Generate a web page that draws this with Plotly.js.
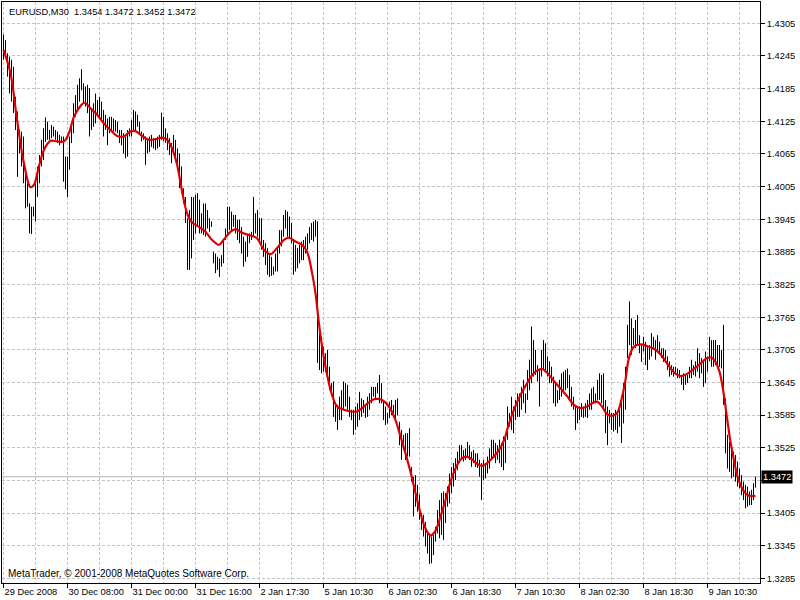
<!DOCTYPE html>
<html>
<head>
<meta charset="utf-8">
<script src="https://cdn.plot.ly/plotly-3.0.1.min.js"></script>
<style>html,body{margin:0;padding:0;background:#fff;}#chart{width:800px;height:600px;}</style>
</head>
<body>
<div id="chart"></div>
<script>
// ---- data ----
const symbol = 'EURUSD,M30';
const lastBar = [1.3454, 1.3472, 1.3452, 1.3472]; // open, high, low, close
const tickIdx = [0, 32, 64, 96, 128, 160, 192, 224, 256, 288, 320, 352];
const tickLabels = ['29 Dec 2008', '30 Dec 08:00', '31 Dec 00:00', '31 Dec 16:00', '2 Jan 17:30', '5 Jan 10:30',
  '6 Jan 02:30', '6 Jan 18:30', '7 Jan 10:30', '8 Jan 02:30', '8 Jan 18:30', '9 Jan 10:30'];
const priceTicks = [1.4305, 1.4245, 1.4185, 1.4125, 1.4065, 1.4005, 1.3945, 1.3885, 1.3825, 1.3765,
  1.3705, 1.3645, 1.3585, 1.3525, 1.3465, 1.3405, 1.3345, 1.3285];

const highs = [
1.4284,1.4274,1.4250,1.4244,1.4238,1.4225,1.4170,1.4143,1.4109,1.4106,
1.4097,1.4036,1.4011,1.3974,1.3968,1.3968,1.4011,1.4042,1.4063,1.4091,
1.4112,1.4132,1.4124,1.4109,1.4118,1.4115,1.4109,1.4106,1.4100,1.4097,
1.4097,1.4060,1.4060,1.4097,1.4121,1.4158,1.4173,1.4192,1.4204,1.4221,
1.4195,1.4189,1.4192,1.4186,1.4146,1.4158,1.4176,1.4164,1.4170,1.4161,
1.4146,1.4137,1.4130,1.4133,1.4133,1.4130,1.4127,1.4124,1.4109,1.4109,
1.4103,1.4097,1.4109,1.4112,1.4127,1.4146,1.4143,1.4137,1.4124,1.4106,
1.4103,1.4097,1.4091,1.4097,1.4100,1.4094,1.4094,1.4097,1.4100,1.4141,
1.4133,1.4112,1.4103,1.4094,1.4085,1.4100,1.4091,1.4075,1.4066,1.4042,
1.4002,1.3986,1.3947,1.3962,1.3986,1.3986,1.3990,1.3993,1.3981,1.3956,
1.3974,1.3974,1.3962,1.3947,1.3941,1.3885,1.3882,1.3876,1.3873,1.3879,
1.3907,1.3928,1.3968,1.3968,1.3959,1.3953,1.3953,1.3944,1.3944,1.3931,
1.3913,1.3904,1.3916,1.3919,1.3922,1.3986,1.3956,1.3962,1.3947,1.3947,
1.3907,1.3901,1.3892,1.3879,1.3876,1.3858,1.3882,1.3892,1.3925,1.3925,
1.3953,1.3962,1.3959,1.3950,1.3938,1.3907,1.3898,1.3892,1.3898,1.3904,
1.3907,1.3913,1.3919,1.3931,1.3938,1.3941,1.3944,1.3941,1.3736,1.3729,
1.3711,1.3699,1.3705,1.3674,1.3644,1.3647,1.3607,1.3604,1.3619,1.3631,
1.3647,1.3644,1.3641,1.3619,1.3595,1.3595,1.3601,1.3607,1.3628,1.3616,
1.3613,1.3601,1.3619,1.3625,1.3637,1.3637,1.3637,1.3644,1.3659,1.3644,
1.3613,1.3601,1.3589,1.3610,1.3613,1.3604,1.3613,1.3616,1.3573,1.3558,
1.3549,1.3552,1.3552,1.3561,1.3490,1.3472,1.3475,1.3457,1.3439,1.3405,
1.3402,1.3389,1.3371,1.3368,1.3362,1.3365,1.3380,1.3411,1.3429,1.3442,
1.3445,1.3442,1.3454,1.3478,1.3490,1.3497,1.3506,1.3518,1.3530,1.3530,
1.3521,1.3524,1.3536,1.3530,1.3518,1.3521,1.3515,1.3515,1.3503,1.3497,
1.3503,1.3497,1.3509,1.3524,1.3540,1.3540,1.3534,1.3530,1.3540,1.3534,
1.3546,1.3546,1.3601,1.3589,1.3619,1.3601,1.3613,1.3625,1.3625,1.3637,
1.3650,1.3625,1.3668,1.3687,1.3748,1.3723,1.3705,1.3677,1.3668,1.3705,
1.3723,1.3717,1.3693,1.3684,1.3674,1.3656,1.3644,1.3631,1.3650,1.3662,
1.3665,1.3668,1.3671,1.3659,1.3637,1.3619,1.3601,1.3601,1.3601,1.3607,
1.3601,1.3607,1.3613,1.3625,1.3634,1.3637,1.3625,1.3650,1.3662,1.3659,
1.3662,1.3613,1.3601,1.3595,1.3589,1.3589,1.3595,1.3589,1.3595,1.3613,
1.3644,1.3674,1.3751,1.3794,1.3763,1.3745,1.3760,1.3769,1.3732,1.3714,
1.3729,1.3720,1.3711,1.3714,1.3736,1.3729,1.3723,1.3732,1.3720,1.3708,
1.3708,1.3705,1.3693,1.3684,1.3677,1.3674,1.3674,1.3671,1.3668,1.3659,
1.3662,1.3659,1.3659,1.3674,1.3687,1.3677,1.3684,1.3708,1.3699,1.3690,
1.3687,1.3702,1.3693,1.3729,1.3723,1.3723,1.3723,1.3714,1.3714,1.3705,
1.3751,1.3616,1.3549,1.3536,1.3530,1.3518,1.3512,1.3500,1.3487,1.3475,
1.3463,1.3457,1.3454,1.3445,1.3448,1.3460,1.3472
];
const lows = [
1.4238,1.4247,1.4207,1.4176,1.4161,1.4140,1.4109,1.4023,1.4066,1.4042,
1.4011,1.3965,1.3968,1.3919,1.3918,1.3950,1.3941,1.3986,1.4011,1.4042,
1.4054,1.4087,1.4091,1.4091,1.4094,1.4097,1.4091,1.4085,1.4081,1.4085,
1.4014,1.4000,1.3986,1.4036,1.4085,1.4103,1.4133,1.4146,1.4161,1.4182,
1.4158,1.4152,1.4140,1.4097,1.4109,1.4115,1.4121,1.4137,1.4133,1.4124,
1.4097,1.4109,1.4081,1.4103,1.4109,1.4106,1.4106,1.4103,1.4085,1.4081,
1.4066,1.4057,1.4060,1.4097,1.4097,1.4106,1.4106,1.4115,1.4103,1.4088,
1.4091,1.4045,1.4066,1.4069,1.4078,1.4075,1.4072,1.4075,1.4078,1.4091,
1.4088,1.4085,1.4072,1.4063,1.4048,1.4066,1.4054,1.4042,1.4002,1.3993,
1.3974,1.3938,1.3852,1.3852,1.3873,1.3907,1.3919,1.3931,1.3919,1.3919,
1.3916,1.3913,1.3928,1.3922,1.3931,1.3864,1.3846,1.3852,1.3839,1.3858,
1.3864,1.3907,1.3919,1.3925,1.3922,1.3931,1.3919,1.3907,1.3901,1.3882,
1.3858,1.3867,1.3876,1.3901,1.3907,1.3913,1.3919,1.3913,1.3901,1.3889,
1.3876,1.3861,1.3843,1.3839,1.3841,1.3843,1.3849,1.3849,1.3882,1.3895,
1.3913,1.3928,1.3913,1.3910,1.3901,1.3843,1.3849,1.3855,1.3864,1.3870,
1.3870,1.3882,1.3889,1.3901,1.3907,1.3904,1.3913,1.3681,1.3668,1.3662,
1.3665,1.3665,1.3656,1.3631,1.3622,1.3582,1.3573,1.3558,1.3576,1.3576,
1.3595,1.3601,1.3595,1.3582,1.3576,1.3549,1.3558,1.3564,1.3576,1.3582,
1.3589,1.3580,1.3582,1.3595,1.3607,1.3619,1.3616,1.3625,1.3607,1.3607,
1.3576,1.3567,1.3570,1.3580,1.3585,1.3589,1.3580,1.3585,1.3530,1.3503,
1.3521,1.3503,1.3509,1.3509,1.3463,1.3399,1.3417,1.3408,1.3393,1.3374,
1.3362,1.3344,1.3331,1.3312,1.3313,1.3328,1.3353,1.3368,1.3359,1.3365,
1.3356,1.3387,1.3417,1.3423,1.3442,1.3454,1.3466,1.3484,1.3497,1.3503,
1.3500,1.3503,1.3509,1.3503,1.3490,1.3497,1.3490,1.3488,1.3472,1.3429,
1.3466,1.3469,1.3478,1.3487,1.3503,1.3509,1.3497,1.3503,1.3497,1.3490,
1.3484,1.3497,1.3540,1.3564,1.3558,1.3552,1.3576,1.3582,1.3582,1.3595,
1.3607,1.3589,1.3613,1.3631,1.3644,1.3656,1.3659,1.3647,1.3601,1.3656,
1.3668,1.3668,1.3656,1.3644,1.3644,1.3607,1.3601,1.3607,1.3613,1.3619,
1.3625,1.3631,1.3635,1.3613,1.3601,1.3595,1.3558,1.3570,1.3576,1.3582,
1.3580,1.3582,1.3580,1.3595,1.3595,1.3607,1.3607,1.3613,1.3613,1.3607,
1.3595,1.3552,1.3530,1.3570,1.3558,1.3555,1.3558,1.3552,1.3564,1.3534,
1.3570,1.3595,1.3690,1.3714,1.3696,1.3714,1.3708,1.3714,1.3699,1.3683,
1.3702,1.3677,1.3668,1.3687,1.3693,1.3705,1.3687,1.3699,1.3696,1.3690,
1.3683,1.3681,1.3668,1.3656,1.3659,1.3656,1.3659,1.3653,1.3653,1.3641,
1.3631,1.3641,1.3644,1.3653,1.3653,1.3659,1.3656,1.3665,1.3653,1.3662,
1.3637,1.3644,1.3665,1.3684,1.3674,1.3674,1.3677,1.3677,1.3674,1.3671,
1.3604,1.3515,1.3487,1.3481,1.3469,1.3472,1.3463,1.3454,1.3451,1.3438,
1.3429,1.3414,1.3417,1.3420,1.3420,1.3429,1.3452
];

// smoothed moving average (red line): bar index and value
const maIdx = [0,3.5,6.8,10.2,13.5,15.2,17.7,20.2,23.5,26.8,30.2,32.7,35.2,38.5,40.5,43.5,46.8,50.2,53.5,56.8,
  60.2,63.2,66,69.3,72.7,76,79.3,81.8,84.3,86.8,89.3,91.8,94.3,97.7,101,104.3,107.7,110.2,113.5,116,
  119.3,122.7,126.8,130.2,133.5,136.8,140.2,142.7,146,149.3,151.8,154.3,156,157.7,159.3,161,162.7,164.3,166.8,170.2,
  173.5,176.8,180.2,183.5,186,189.3,192.7,196,198.5,201,203.5,206,208.5,211,213.5,216,218.5,221,223.5,226,
  228.5,231,233.5,236,239,241.8,245.2,247.7,250.7,251.8,255.2,258.5,261.8,264.3,266.8,269.3,271.8,275.2,278.5,281.8,
  285.2,288.5,291.8,294.3,296.8,299.3,301.8,304.3,306.8,309.3,311,312.7,315.2,318.5,321.8,325.2,328.5,331.8,335.2,338.5,
  341.8,345.2,348.5,351.8,354,356,358,360.2,361.8,363.5,365.2,366.8,368.5,370.2,372.7,376];
const maVal = [1.4256,1.4213,1.4127,1.4048,1.4004,1.4008,1.4042,1.4072,1.4089,1.4088,1.4088,1.4103,1.4133,1.4153,1.4159,1.4149,1.4137,1.4121,1.4109,1.4098,
  1.4097,1.4106,1.4107,1.4098,1.4091,1.4092,1.4095,1.4091,1.4075,1.4045,1.3996,1.3956,1.3939,1.3931,1.3922,1.3907,1.3898,1.3908,1.3922,1.3927,
  1.3920,1.3916,1.3910,1.3889,1.3881,1.3892,1.3907,1.3911,1.3904,1.3898,1.3885,1.3846,1.3809,1.3754,1.3711,1.3674,1.3644,1.3622,1.3601,1.3595,
  1.3592,1.3592,1.3601,1.3611,1.3615,1.3613,1.3601,1.3576,1.3546,1.3515,1.3481,1.3442,1.3405,1.3377,1.3364,1.3373,1.3399,1.3429,1.3463,1.3487,
  1.3503,1.3509,1.3506,1.3498,1.3492,1.3497,1.3509,1.3521,1.3543,1.3558,1.3595,1.3622,1.3644,1.3659,1.3667,1.3670,1.3663,1.3648,1.3634,1.3620,
  1.3604,1.3598,1.3601,1.3607,1.3610,1.3601,1.3587,1.3584,1.3589,1.3619,1.3650,1.3690,1.3711,1.3715,1.3712,1.3707,1.3697,1.3680,1.3664,1.3657,
  1.3661,1.3670,1.3680,1.3690,1.3691,1.3683,1.3665,1.3622,1.3579,1.3536,1.3503,1.3475,1.3457,1.3445,1.3437,1.3437];

// ---- build traces ----
const barX = [], barY = [];
for (let i = 0; i < highs.length; i++) {
  barX.push(i, i, null);
  barY.push(lows[i], highs[i], null);
}
const lastClose = lastBar[3];
const FONT = 'Liberation Sans, Arial, sans-serif';
const GRID = '#c4c4c4';
const minorIdx = tickIdx.map(v => v + 16);
// the price label box hides the tick label next to the last close
const priceText = priceTicks.map(v => Math.abs(v - lastClose) < 0.0015 ? '' : v.toFixed(4));

const traces = [
  {type: 'scatter', mode: 'lines', x: barX, y: barY, line: {color: '#000', width: 1}, hoverinfo: 'skip', connectgaps: false},
  {type: 'scatter', mode: 'lines', x: maIdx, y: maVal, line: {color: '#dd0000', width: 2.2, shape: 'spline', smoothing: 1}, hoverinfo: 'skip'}
];

const layout = {
  width: 800, height: 600,
  margin: {l: 2, r: 40, t: 2, b: 17, pad: 0},
  paper_bgcolor: '#fff', plot_bgcolor: '#fff',
  showlegend: false,
  font: {family: FONT, size: 9.3, color: '#000'},
  xaxis: {
    range: [-0.75, 378.25], tickmode: 'array', tickvals: tickIdx, ticktext: tickLabels,
    tickangle: 0, automargin: false,
    ticks: 'outside', ticklen: 4, tickcolor: '#000', tickwidth: 1,
    ticklabelposition: 'outside right',
    tickfont: {family: FONT, size: 9.3, color: '#000'},
    showgrid: true, gridcolor: GRID, griddash: '3px,2px', gridwidth: 1,
    minor: {tickmode: 'array', tickvals: minorIdx, showgrid: true, gridcolor: GRID, griddash: '3px,2px', ticks: ''},
    showline: true, mirror: true, linecolor: '#000', linewidth: 1, zeroline: false, fixedrange: true
  },
  yaxis: {
    side: 'right', range: [1.32768, 1.43441], automargin: false,
    tickmode: 'array', tickvals: priceTicks, ticktext: priceText,
    ticks: 'outside', ticklen: 4, tickcolor: '#000', tickwidth: 1,
    tickfont: {family: FONT, size: 9.3, color: '#000'},
    showgrid: true, gridcolor: GRID, griddash: '3px,2px', gridwidth: 1,
    showline: true, mirror: true, linecolor: '#000', linewidth: 1, zeroline: false, fixedrange: true
  },
  shapes: [
    {type: 'line', xref: 'paper', x0: 0, x1: 1, yref: 'y', y0: lastClose, y1: lastClose,
     line: {color: '#b4b4b4', width: 1}, layer: 'below'}
  ],
  annotations: [
    {xref: 'paper', yref: 'paper', x: 0, y: 1, xanchor: 'left', yanchor: 'top', xshift: 5, yshift: -3,
     showarrow: false, align: 'left',
     text: symbol + '&nbsp;&nbsp;' + lastBar.map(v => v.toFixed(4)).join(' '),
     font: {family: FONT, size: 9.3, color: '#000'}},
    {xref: 'paper', yref: 'paper', x: 0, y: 0, xanchor: 'left', yanchor: 'bottom', xshift: 4, yshift: 2,
     showarrow: false, align: 'left',
     text: 'MetaTrader, © 2001-2008 MetaQuotes Software Corp.',
     font: {family: FONT, size: 10, color: '#000'}},
    {xref: 'paper', yref: 'y', x: 1, y: lastClose, xanchor: 'left', yanchor: 'middle', xshift: 1,
     showarrow: false, text: lastClose.toFixed(4), bgcolor: '#000', borderpad: 1,
     font: {family: FONT, size: 9.3, color: '#fff'}}
  ]
};

Plotly.newPlot('chart', traces, layout, {displayModeBar: false, staticPlot: true});
</script>
</body>
</html>
